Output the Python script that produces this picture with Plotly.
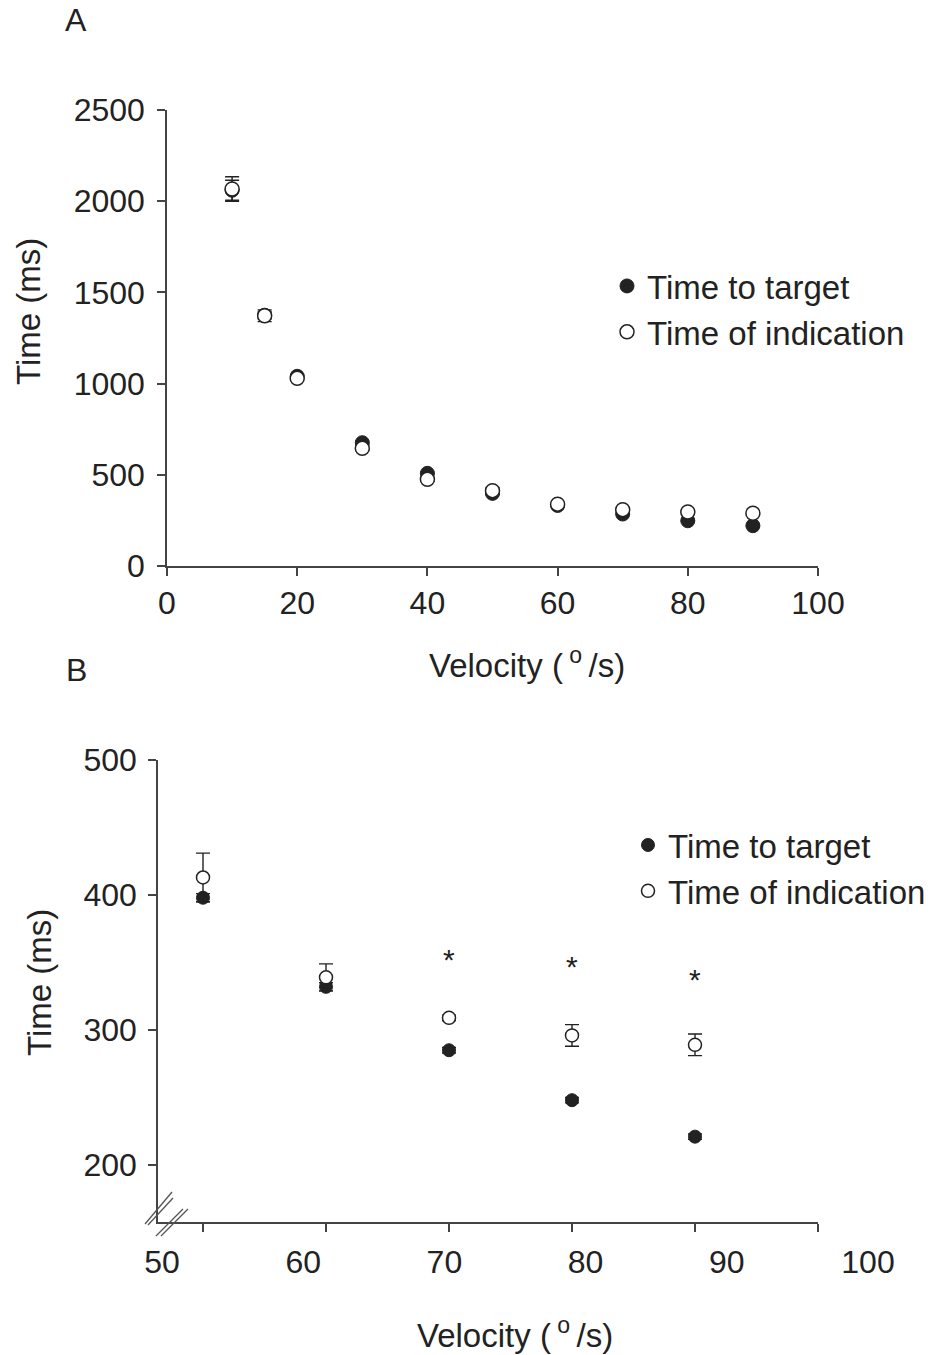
import plotly.graph_objects as go

# ---- Panel A: full velocity range ----
vel_a = [10, 15, 20, 30, 40, 50, 60, 70, 80, 90]
target_a = [2060, 1375, 1040, 676, 508, 398, 332, 285, 248, 221]
target_se_a = [55, 20, 10, 8, 6, 3, 3, 2, 2, 2]
indic_a = [2067, 1372, 1029, 645, 475, 413, 339, 309, 296, 289]
indic_se_a = [67, 32, 10, 12, 10, 18, 10, 2, 8, 8]

# ---- Panel B: 50-90 deg/s detail ----
vel_b = [50, 60, 70, 80, 90]
target_b = [398, 332, 285, 248, 221]
target_se_b = [3, 3, 2, 2, 2]
indic_b = [413, 339, 309, 296, 289]
indic_se_b = [18, 10, 2, 8, 8]

# significance markers (velocity, height in ms)
sig_vel = [70, 80, 90]
sig_y = [353, 348, 338]

ticks_a_x = [0, 20, 40, 60, 80, 100]
ticks_a_y = [0, 500, 1000, 1500, 2000, 2500]
ticks_b_x = [50, 60, 70, 80, 90, 100]
ticks_b_y = [200, 300, 400, 500]

W, H = 938, 1355
FONT = "Liberation Sans, Arial, sans-serif"
INK = "#222222"
AXIS = "#444444"


def fx(p):
    return p / W


def fy(p):
    return 1 - p / H


fig = go.Figure()

err_style = dict(type="data", visible=True, color=INK, thickness=1.4, width=7)

fig.add_trace(go.Scatter(
    x=vel_a, y=target_a, mode="markers", name="Time to target",
    marker=dict(symbol="circle", size=14, color=INK, line=dict(color=INK, width=1)),
    error_y=dict(array=target_se_a, **err_style),
    xaxis="x", yaxis="y", legend="legend"))
fig.add_trace(go.Scatter(
    x=vel_a, y=indic_a, mode="markers", name="Time of indication",
    marker=dict(symbol="circle", size=14, color="white", line=dict(color=INK, width=1.5)),
    error_y=dict(array=indic_se_a, **err_style),
    xaxis="x", yaxis="y", legend="legend"))

fig.add_trace(go.Scatter(
    x=vel_b, y=target_b, mode="markers", name="Time to target",
    marker=dict(symbol="circle", size=13, color=INK, line=dict(color=INK, width=1)),
    error_y=dict(array=target_se_b, **err_style),
    xaxis="x2", yaxis="y2", legend="legend2"))
fig.add_trace(go.Scatter(
    x=vel_b, y=indic_b, mode="markers", name="Time of indication",
    marker=dict(symbol="circle", size=13, color="white", line=dict(color=INK, width=1.5)),
    error_y=dict(array=indic_se_b, **err_style),
    xaxis="x2", yaxis="y2", legend="legend2"))

# carrier for the label-only velocity axis of panel B
fig.add_trace(go.Scatter(
    x=[ticks_b_x[0], ticks_b_x[-1]], y=[None, None], mode="markers",
    showlegend=False, hoverinfo="skip", xaxis="x3", yaxis="y2"))

TICKFONT = dict(family=FONT, size=32, color=INK)
axis_common = dict(
    showline=True, linecolor=AXIS, linewidth=1.5, showgrid=False, zeroline=False,
    ticks="outside", ticklen=8, tickwidth=1.5, tickcolor=AXIS,
    tickfont=TICKFONT, mirror=False, automargin=False,
)

fig.update_layout(
    template="none",
    width=W, height=H, margin=dict(l=0, r=0, t=0, b=0, pad=0),
    paper_bgcolor="white", plot_bgcolor="rgba(0,0,0,0)",
    font=dict(family=FONT, color=INK),
    xaxis=dict(domain=[fx(167), fx(818)], range=[0, 100], tickvals=ticks_a_x,
               anchor="y", ticklabelstandoff=0, **axis_common),
    yaxis=dict(domain=[fy(566), fy(110)], range=[0, 2500], tickvals=ticks_a_y,
               anchor="x", ticklabelstandoff=6, **axis_common),
    xaxis2=dict(domain=[fx(158), fx(818)], range=[50 - 45 / 12.3, 100],
                tickvals=ticks_b_x, showticklabels=False, anchor="y2", **axis_common),
    yaxis2=dict(domain=[fy(1222), fy(760)], range=[500 - 462 / 1.35, 500],
                tickvals=ticks_b_y, anchor="x2", ticklabelstandoff=5, **axis_common),
    xaxis3=dict(domain=[fx(162), fx(868)], range=[50, 100], tickvals=ticks_b_x,
                anchor="y2", showline=False, showgrid=False, zeroline=False,
                ticks="", ticklabelstandoff=18, automargin=False, tickfont=TICKFONT),
    legend=dict(x=fx(607), y=fy(258), xanchor="left", yanchor="top",
                font=dict(family=FONT, size=33, color=INK), bgcolor="rgba(0,0,0,0)",
                borderwidth=0, tracegroupgap=0),
    legend2=dict(x=fx(628), y=fy(817), xanchor="left", yanchor="top",
                 font=dict(family=FONT, size=33, color=INK), bgcolor="rgba(0,0,0,0)",
                 borderwidth=0, tracegroupgap=0),
    showlegend=True,
)

ann = []


def label(text, x, y, size=33, angle=0):
    ann.append(dict(text=text, x=fx(x), y=fy(y), xref="paper", yref="paper",
                    xanchor="center", yanchor="middle", showarrow=False,
                    textangle=angle, font=dict(family=FONT, size=size, color=INK)))


# panel letters
label("A", 76, 20, size=32)
label("B", 76, 670, size=32)
# axis titles
vel_title = "Velocity (<sup> o </sup>/s)"
label(vel_title, 527, 663)
label(vel_title, 515, 1333)
label("Time (ms)", 28, 312, angle=-90)
label("Time (ms)", 39, 983, angle=-90)
# significance asterisks
for v, s in zip(sig_vel, sig_y):
    ann.append(dict(text="*", x=v, y=s, xref="x2", yref="y2", showarrow=False,
                    xanchor="center", yanchor="middle", yshift=-1,
                    font=dict(family=FONT, size=30, color=INK)))
fig.update_layout(annotations=ann)

# axis-break marks at the panel B origin (pixel offsets from the corner)
dom_w, dom_h = 818 - 158, 1222 - 760
break_lines = [
    ((-13, 2), (14, -30)),
    ((-10, 3), (15, -24)),
    ((-2, 14), (25, -13)),
    ((3, 14), (30, -13)),
]
shapes = []
for (x0, y0), (x1, y1) in break_lines:
    shapes.append(dict(type="line", xref="x2 domain", yref="y2 domain",
                       x0=x0 / dom_w, y0=-y0 / dom_h, x1=x1 / dom_w, y1=-y1 / dom_h,
                       line=dict(color="#555555", width=1.3)))
fig.update_layout(shapes=shapes)

fig.write_html("out.html")
